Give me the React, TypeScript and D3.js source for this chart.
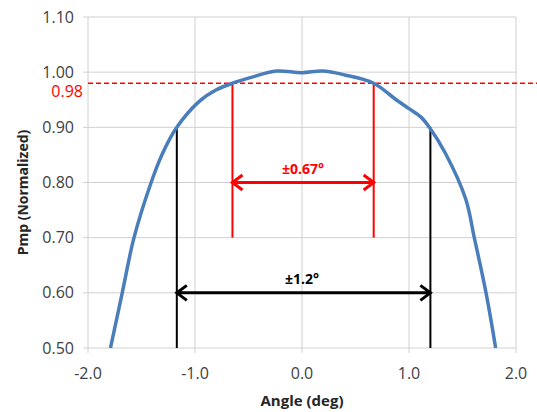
import React from "react";
import * as d3 from "d3";

const angles = [-1.79, -1.68, -1.57, -1.41, -1.31, -1.17, -0.96, -0.8, -0.65, -0.45, -0.24, 0.0, 0.19, 0.4, 0.67, 0.88, 1.0, 1.11, 1.19, 1.34, 1.53, 1.61, 1.72, 1.81];
const pmp = [0.5, 0.6, 0.7, 0.8, 0.85, 0.9, 0.947, 0.968, 0.98, 0.992, 1.002, 0.999, 1.002, 0.995, 0.98, 0.95, 0.934, 0.919, 0.9, 0.853, 0.77, 0.7, 0.6, 0.5];
const xTicks = [-2, -1, 0, 1, 2];
const yTicks = [0.5, 0.6, 0.7, 0.8, 0.9, 1.0, 1.1];
const threshold = 0.98;
const redBounds = [-0.65, 0.67];
const redBottom = 0.7;
const redArrowY = 0.8;
const redLabel = "±0.67°";
const blackBounds = [-1.17, 1.2];
const blackTop = 0.9;
const blackArrowY = 0.6;
const blackLabel = "±1.2°";

const W = 537, H = 412;
const L = 88, R = 516, T = 17, B = 348;
const FONT = "'Open Sans', 'Liberation Sans', sans-serif";

export default function App() {
  const x = d3.scaleLinear().domain([-2, 2]).range([L, R]);
  const y = d3.scaleLinear().domain([0.5, 1.1]).range([B, T]);
  const line = d3.line<number>().x((d, i) => x(angles[i])).y((d) => y(d)).curve(d3.curveCatmullRom.alpha(0.5));
  const ah = 10;
  const arrow = (x1: number, x2: number, yy: number, both: boolean) => {
    let p = `M${x1},${yy}L${x2},${yy}`;
    p += `M${x2 - ah},${yy - ah * 0.75}L${x2},${yy}L${x2 - ah},${yy + ah * 0.75}`;
    if (both) p += `M${x1 + ah},${yy - ah * 0.75}L${x1},${yy}L${x1 + ah},${yy + ah * 0.75}`;
    return p;
  };
  const fx = (t: number) => d3.format(".1f")(t).replace("\u2212", "-");
  return (
    <svg width={W} height={H} style={{ position: "absolute", left: 0, top: 0, background: "#fff" }} fontFamily={FONT}>
      {yTicks.map((t) => (
        <line key={"gy" + t} x1={L - 5} x2={R} y1={y(t)} y2={y(t)} stroke="#d0d0d0" strokeWidth={1} />
      ))}
      {xTicks.map((t) => (
        <line key={"gx" + t} x1={x(t)} x2={x(t)} y1={T} y2={B + 5} stroke="#d0d0d0" strokeWidth={1} />
      ))}
      {yTicks.map((t) => (
        <text key={"ty" + t} x={L - 14} y={y(t)} dy="0.35em" textAnchor="end" fontSize={16} fill="#404040">
          {d3.format(".2f")(t)}
        </text>
      ))}
      {xTicks.map((t) => (
        <text key={"tx" + t} x={x(t)} y={379} textAnchor="middle" fontSize={16} fill="#404040">
          {fx(t)}
        </text>
      ))}
      <text x={x(0)} y={406} textAnchor="middle" fontSize={15} fontWeight="bold" fill="#262626">Angle (deg)</text>
      <text transform={`translate(28,${(T + B) / 2 + 10}) rotate(-90)`} textAnchor="middle" fontSize={14} fontWeight="bold" fill="#262626">
        Pmp (Normalized)
      </text>
      <line x1={L} x2={W} y1={y(threshold)} y2={y(threshold)} stroke="#ff0000" strokeWidth={1.5} strokeDasharray="5,3" />
      <text x={L - 5} y={y(threshold) + 14} textAnchor="end" fontSize={16} fill="#ff0000">{threshold.toFixed(2)}</text>
      {redBounds.map((b) => (
        <line key={"rb" + b} x1={x(b)} x2={x(b)} y1={y(threshold)} y2={y(redBottom)} stroke="#ff0000" strokeWidth={2} />
      ))}
      <path d={arrow(x(redBounds[0]), x(redBounds[1]), y(redArrowY), true)} stroke="#ff0000" strokeWidth={3} fill="none" />
      <text x={(x(redBounds[0]) + x(redBounds[1])) / 2} y={y(redArrowY) - 9} textAnchor="middle" fontSize={14} fontWeight="bold" fill="#ff0000">{redLabel}</text>
      {blackBounds.map((b) => (
        <line key={"bb" + b} x1={x(b)} x2={x(b)} y1={y(blackTop)} y2={B} stroke="#000" strokeWidth={2} />
      ))}
      <path d={arrow(x(blackBounds[0]), x(blackBounds[1]), y(blackArrowY), true)} stroke="#000" strokeWidth={3} fill="none" />
      <text x={x(0)} y={y(blackArrowY) - 9} textAnchor="middle" fontSize={14} fontWeight="bold" fill="#000">{blackLabel}</text>
      <path d={line(pmp) || ""} stroke="#4a7ebb" strokeWidth={3.5} fill="none" />
    </svg>
  );
}
